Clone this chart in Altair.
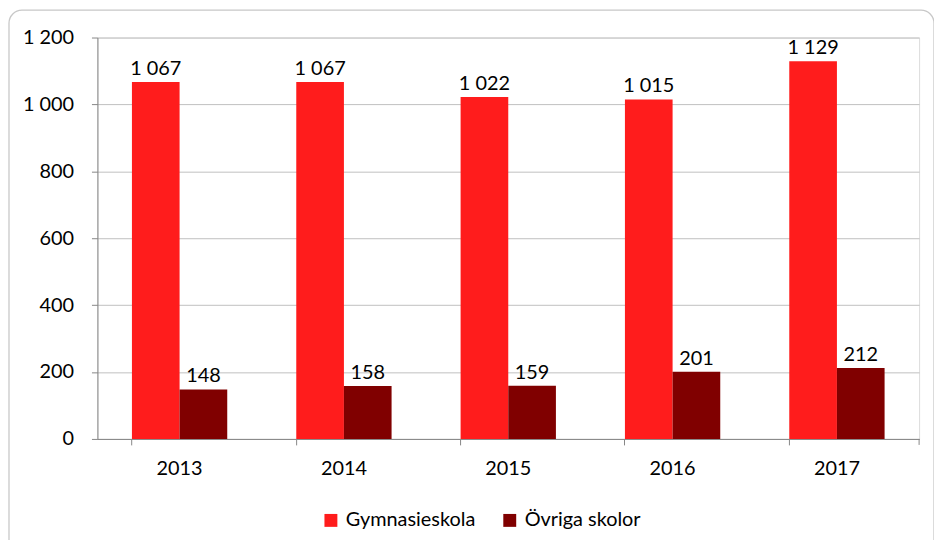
import altair as alt
import pandas as pd

years = ["2013", "2014", "2015", "2016", "2017"]
gymnasieskola = [1067, 1067, 1022, 1015, 1129]
ovriga = [148, 158, 159, 201, 212]
series = ["Gymnasieskola", "Övriga skolor"]
colors = ["#FF1C1C", "#800000"]
y_ticks = [0, 200, 400, 600, 800, 1000, 1200]

rows = []
for i, yr in enumerate(years):
    rows.append({"year": yr, "serie": series[0], "value": gymnasieskola[i]})
    rows.append({"year": yr, "serie": series[1], "value": ovriga[i]})
df = pd.DataFrame(rows)

FONT = "Lato"
FS = 20
W, H = 827, 404

base = alt.Chart(df).encode(
    x=alt.X("year:N", sort=years,
            scale=alt.Scale(paddingInner=0.42, paddingOuter=0.21),
            axis=alt.Axis(title=None, labelAngle=0, bandPosition=0, grid=False,
                          domainColor="#868686", tickColor="#868686", tickSize=6,
                          labelPadding=14, labelFont=FONT, labelFontSize=FS,
                          labelColor="#000000")),
    xOffset=alt.XOffset("serie:N", sort=series, scale=alt.Scale(paddingInner=0, paddingOuter=0)),
)

bars = base.mark_bar().encode(
    y=alt.Y("value:Q", scale=alt.Scale(domain=[0, 1200], nice=False),
            axis=alt.Axis(title=None, values=y_ticks, grid=True, gridColor="#BFBFBF",
                          domainColor="#868686", tickColor="#868686", tickSize=6,
                          labelPadding=18, labelFont=FONT, labelFontSize=FS,
                          labelColor="#000000",
                          labelExpr="replace(format(datum.value, ','), ',', ' ')")),
    color=alt.Color("serie:N", sort=series,
                    scale=alt.Scale(domain=series, range=colors),
                    legend=alt.Legend(title=None, orient="none", direction="horizontal",
                                      legendX=225, legendY=476, symbolType="square",
                                      symbolSize=169, symbolStrokeWidth=0,
                                      labelFont=FONT, labelFontSize=FS,
                                      labelColor="#000000", labelOffset=5,
                                      columnPadding=24)),
)

labels = base.transform_calculate(
    lbl="replace(format(datum.value, ','), ',', ' ')"
).mark_text(font=FONT, fontSize=FS, color="#000000", dy=-7, baseline="alphabetic").encode(
    y=alt.Y("value:Q"),
    text="lbl:N",
)

end_tick = alt.Chart(pd.DataFrame({"k": [0]})).mark_rule(color="#868686").encode(
    x=alt.value(W), y=alt.value(H), y2=alt.value(H + 6)
)

frame = alt.Chart(pd.DataFrame({"k": [0]})).mark_rect(
    fill="transparent", stroke="#C8C8C8", strokeWidth=1.3, cornerRadius=13
).encode(
    x=alt.value(-89), x2=alt.value(842), y=alt.value(-27.5), y2=alt.value(620)
)

chart = alt.layer(frame, bars, labels, end_tick).properties(
    width=W, height=H,
    autosize=alt.AutoSizeParams(type="none"),
    padding={"left": 90, "top": 28, "right": 15, "bottom": 100},
).configure_view(stroke=None).configure(background="white")

chart.save("out.html", embed_options={"renderer": "svg", "actions": False})
